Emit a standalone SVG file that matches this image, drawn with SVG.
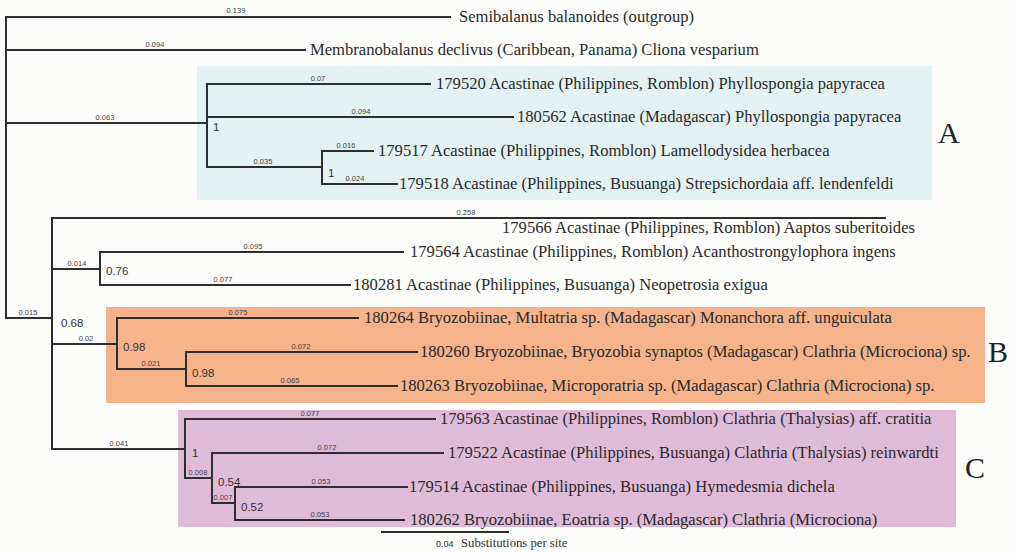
<svg xmlns="http://www.w3.org/2000/svg" width="1016" height="553" viewBox="0 0 1016 553">
<style>
.br{fill:none;stroke:#2e2e2e;stroke-width:2;stroke-linecap:square}
.tx{font-family:"Liberation Serif","Times New Roman",serif;font-size:16.6px;fill:#2a2a2a}
.bl{font-family:"Liberation Sans",Arial,sans-serif;font-size:7.5px;fill:#444;text-anchor:middle}
.sp{font-family:"Liberation Sans",Arial,sans-serif;font-size:11.5px;fill:#333}
.cl{font-family:"Liberation Serif","Times New Roman",serif;font-size:30px;fill:#222}
</style>
<rect width="1016" height="553" fill="#fcfcfa"/>
<g id="boxes">
<rect id="boxA" x="197" y="66" width="735" height="134" fill="#e3f1f2"/>
<rect id="boxB" x="106" y="307" width="879" height="96" fill="#f5b38b"/>
<rect id="boxC" x="178" y="410" width="778" height="117" fill="#e0bbd8"/>
</g>
<g id="connectors">
<path class="br" d="M6 17V318M6 17H450M6 50H305M6 123H207"/>
<path class="br" d="M207 84V167M207 84H430M207 117H513M207 167H322"/>
<path class="br" d="M322 151V184M322 151H373M322 184H397"/>
<path class="br" d="M6 318H52M52 218V449M52 218H885M52 269H100"/>
<path class="br" d="M100 252V285M100 252H403M100 285H350"/>
<path class="br" d="M52 344H117M117 318V369M117 318H358M117 369H186"/>
<path class="br" d="M186 352V386M186 352H417M186 386H397"/>
<path class="br" d="M52 449H185M185 419V478M185 419H435M185 478H212"/>
<path class="br" d="M212 453V503M212 453H443M212 503H235"/>
<path class="br" d="M235 487V520M235 487H407M235 520H404"/>
</g>
<g id="branch-lengths">
<text class="bl" x="236" y="13">0.139</text>
<text class="bl" x="155" y="47">0.094</text>
<text class="bl" x="105" y="120">0.063</text>
<text class="bl" x="318" y="81">0.07</text>
<text class="bl" x="361" y="114">0.094</text>
<text class="bl" x="263" y="164">0.035</text>
<text class="bl" x="346" y="148">0.016</text>
<text class="bl" x="355" y="181">0.024</text>
<text class="bl" x="466" y="215">0.258</text>
<text class="bl" x="77" y="266">0.014</text>
<text class="bl" x="253" y="249">0.095</text>
<text class="bl" x="223" y="282">0.077</text>
<text class="bl" x="28" y="315">0.015</text>
<text class="bl" x="86" y="341">0.02</text>
<text class="bl" x="238" y="315">0.075</text>
<text class="bl" x="151" y="366">0.021</text>
<text class="bl" x="301" y="349">0.072</text>
<text class="bl" x="290" y="383">0.065</text>
<text class="bl" x="119" y="446">0.041</text>
<text class="bl" x="310" y="416">0.077</text>
<text class="bl" x="327" y="450">0.072</text>
<text class="bl" x="198" y="475">0.008</text>
<text class="bl" x="223" y="500">0.007</text>
<text class="bl" x="321" y="484">0.053</text>
<text class="bl" x="320" y="517">0.053</text>
</g>
<g id="supports">
<text class="sp" x="213" y="131">1</text>
<text class="sp" x="328" y="177">1</text>
<text class="sp" x="106" y="275">0.76</text>
<text class="sp" x="61" y="327">0.68</text>
<text class="sp" x="123" y="351">0.98</text>
<text class="sp" x="192" y="377">0.98</text>
<text class="sp" x="192" y="457">1</text>
<text class="sp" x="218" y="486">0.54</text>
<text class="sp" x="241" y="511">0.52</text>
</g>
<g id="n-semibalanus"><text class="tx" x="459" y="22">Semibalanus balanoides (outgroup)</text></g>
<g id="n-membranobalanus"><text class="tx" x="310" y="55">Membranobalanus declivus (Caribbean, Panama) Cliona vesparium</text></g>
<g id="n-179520"><text class="tx" x="436" y="89">179520 Acastinae (Philippines, Romblon) Phyllospongia papyracea</text></g>
<g id="n-180562"><text class="tx" x="517" y="122">180562 Acastinae (Madagascar) Phyllospongia papyracea</text></g>
<g id="n-179517"><text class="tx" x="378" y="156">179517 Acastinae (Philippines, Romblon) Lamellodysidea herbacea</text></g>
<g id="n-179518"><text class="tx" x="399" y="189">179518 Acastinae (Philippines, Busuanga) Strepsichordaia aff. lendenfeldi</text></g>
<g id="n-179566"><text class="tx" x="502" y="233">179566 Acastinae (Philippines, Romblon) Aaptos suberitoides</text></g>
<g id="n-179564"><text class="tx" x="410" y="257">179564 Acastinae (Philippines, Romblon) Acanthostrongylophora ingens</text></g>
<g id="n-180281"><text class="tx" x="353" y="290">180281 Acastinae (Philippines, Busuanga) Neopetrosia exigua</text></g>
<g id="n-180264"><text class="tx" x="364" y="323">180264 Bryozobiinae, Multatria sp. (Madagascar) Monanchora aff. unguiculata</text></g>
<g id="n-180260"><text class="tx" x="420" y="357">180260 Bryozobiinae, Bryozobia synaptos (Madagascar) Clathria (Microciona) sp.</text></g>
<g id="n-180263"><text class="tx" x="400" y="391">180263 Bryozobiinae, Microporatria sp. (Madagascar) Clathria (Microciona) sp.</text></g>
<g id="n-179563"><text class="tx" x="440" y="424">179563 Acastinae (Philippines, Romblon) Clathria (Thalysias) aff. cratitia</text></g>
<g id="n-179522"><text class="tx" x="448" y="458">179522 Acastinae (Philippines, Busuanga) Clathria (Thalysias) reinwardti</text></g>
<g id="n-179514"><text class="tx" x="409" y="492">179514 Acastinae (Philippines, Busuanga) Hymedesmia dichela</text></g>
<g id="n-180262"><text class="tx" x="410" y="525">180262 Bryozobiinae, Eoatria sp. (Madagascar) Clathria (Microciona)</text></g>
<g id="clade-labels">
<text class="cl" x="938" y="143">A</text>
<text class="cl" x="988" y="362">B</text>
<text class="cl" x="965" y="478">C</text>
</g>
<g id="scale">
<path class="br" d="M382 532H508"/>
<text x="436" y="547" font-family="Liberation Sans,Arial,sans-serif" font-size="9" fill="#333">0.04</text>
<text x="461" y="547" font-family="Liberation Serif,Times New Roman,serif" font-size="12.7" fill="#333">Substitutions per site</text>
</g>
</svg>
